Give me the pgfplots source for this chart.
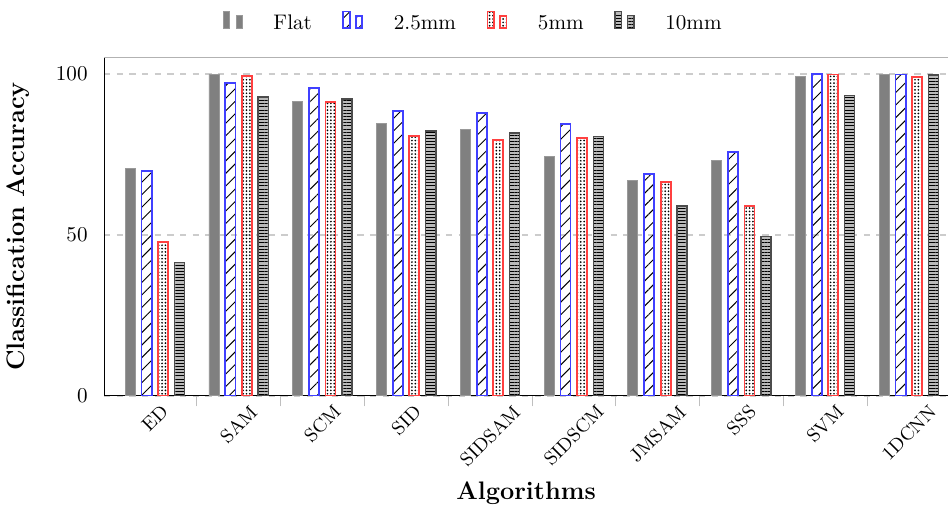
\documentclass[border=0pt]{standalone}
\usepackage{pgfplots}
\usepackage{graphicx}
\pgfplotsset{compat=1.18}
\usetikzlibrary{patterns,patterns.meta}
\pgfplotstableread{
x flat mmA mmB mmC
0 70.7 70.0 47.7 41.5
1 99.9 97.3 99.4 92.9
2 91.5 95.6 91.4 92.3
3 84.8 88.5 80.7 82.4
4 82.9 87.9 79.5 81.7
5 74.3 84.4 80.2 80.6
6 67.0 69.0 66.5 59.0
7 73.1 75.8 59.0 49.6
8 99.4 100.0 99.9 93.3
9 100.0 99.9 99.2 99.7
}\datatable
\begin{document}
\begin{tikzpicture}
\begin{axis}[
 width=400pt, height=160.5pt, scale only axis,
 axis x line*=bottom, axis y line*=left,
 ybar, bar width=0.12,
 xmin=-0.606, xmax=9.47, ymin=0, ymax=105.3,
 xtick={0,...,9},
 xticklabels={\rotatebox{45}{ED},\rotatebox{45}{SAM},\rotatebox{45}{SCM},\rotatebox{45}{SID},\rotatebox{45}{SIDSAM},\rotatebox{45}{SIDSCM},\rotatebox{45}{JMSAM},\rotatebox{45}{SSS},\rotatebox{45}{SVM},\rotatebox{45}{1DCNN}},
 x tick label style={font=\small, anchor=north, yshift=4pt},
 major x tick style={draw=none},
 minor xtick={0.5,1.5,...,8.5},
 minor x tick style={gray!50},
 minor tick length=5pt,
 tick align=outside,
 ytick={0,50,100},
 major y tick style={draw=none},
 ymajorgrids, grid style={dashed, gray!40, line width=0.8pt},
 xlabel={\large\bfseries Algorithms},
 ylabel={\large\bfseries Classification Accuracy},
 ylabel shift=5.5pt,
 legend style={draw=none, at={(0.133,1.045)}, anchor=south west, legend columns=4,
   /tikz/every even column/.append style={column sep=12.5pt},
   /tikz/every odd column/.append style={column sep=12.5pt}},
]
\addplot[bar shift=-0.294, fill=gray, draw=gray!80] table[x=x,y=flat]{\datatable};
\addlegendentry{Flat}
\addplot[bar shift=-0.098, draw=blue!75, line width=0.85pt, preaction={pattern={Lines[angle=45,distance=4.2pt,line width=0.45pt]}, pattern color=black}] table[x=x,y=mmA]{\datatable};
\addlegendentry{2.5mm}
\addplot[bar shift=0.098, draw=red!75, line width=0.85pt, preaction={pattern={Dots[distance=1.6pt,radius=0.45pt]}, pattern color=black}] table[x=x,y=mmB]{\datatable};
\addlegendentry{5mm}
\addplot[bar shift=0.294, draw=black!70, line width=0.7pt, preaction={fill=gray!55}, preaction={pattern={Lines[angle=0,distance=1.5pt,line width=0.4pt]}, pattern color=black}] table[x=x,y=mmC]{\datatable};
\addlegendentry{10mm}
\draw[gray!60, line width=0.6pt] (rel axis cs:0,1) -- (rel axis cs:1,1);
\end{axis}
\path (current bounding box.north) ++(0,3pt);
\end{tikzpicture}
\end{document}
